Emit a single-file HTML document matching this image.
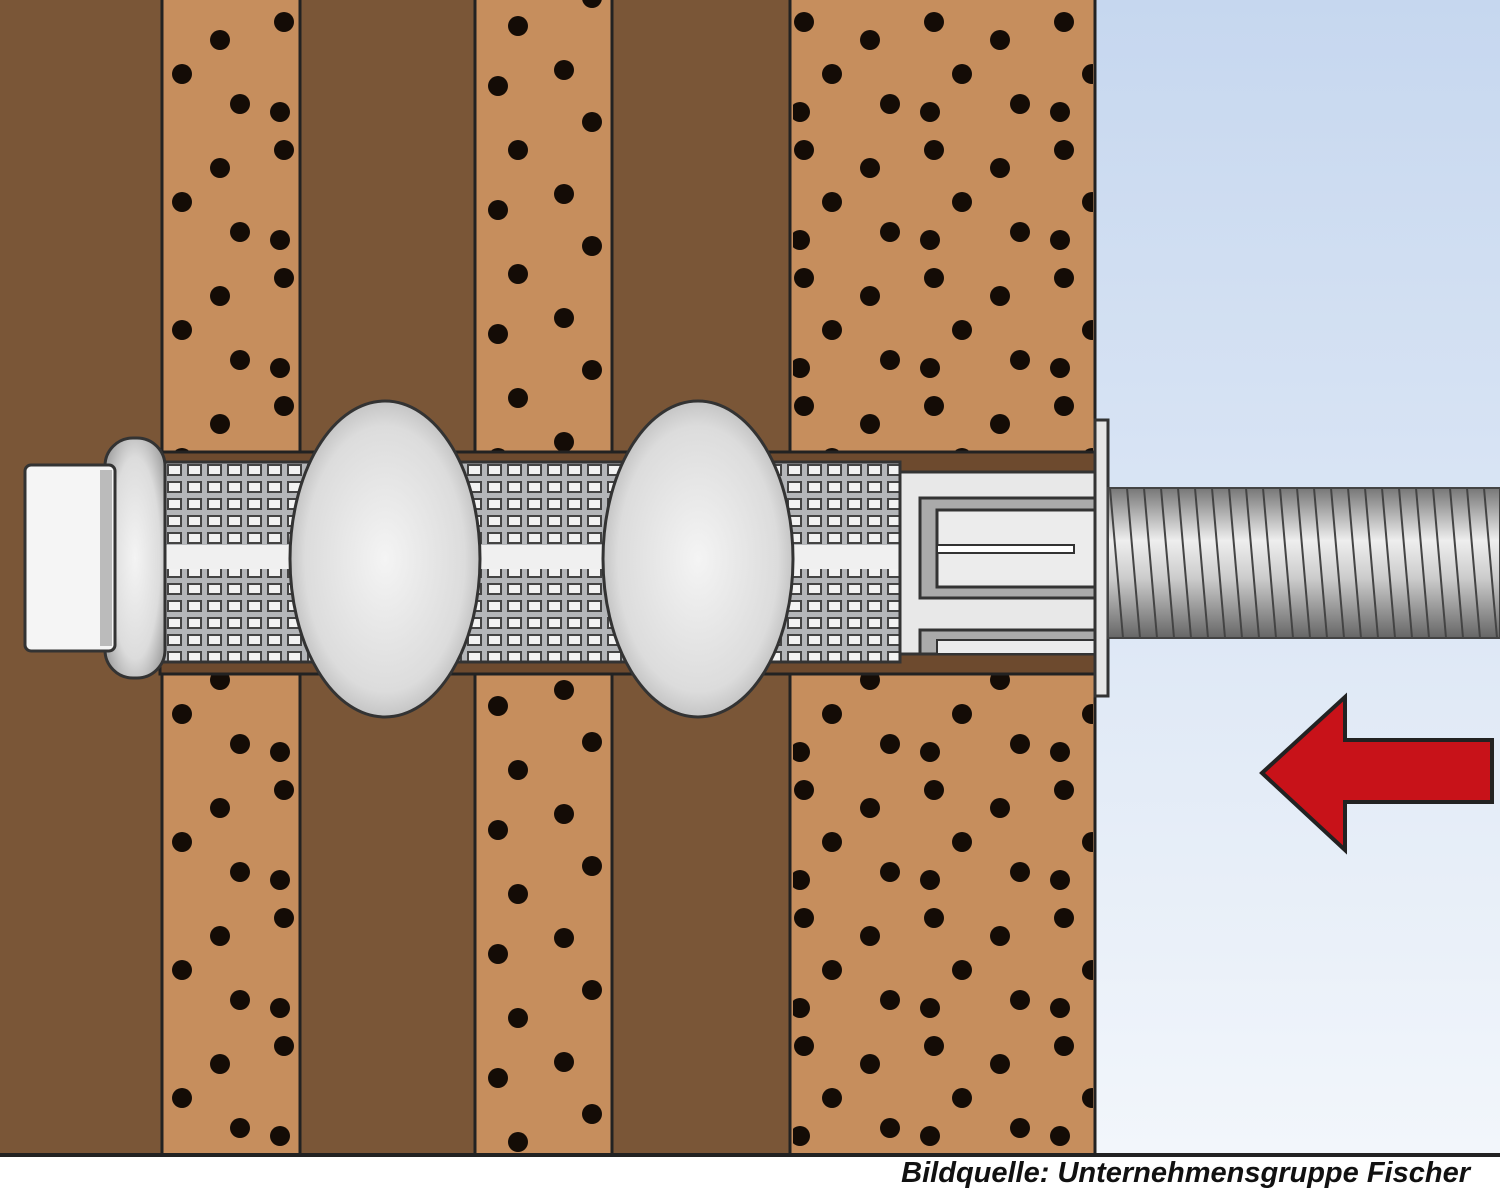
<!DOCTYPE html>
<html><head><meta charset="utf-8"><style>
html,body{margin:0;padding:0;background:#fff;width:1500px;height:1195px;overflow:hidden}
svg{display:block}
.cap{position:absolute;left:0;top:1157px;width:1470px;text-align:right;font-family:"Liberation Sans",sans-serif;font-style:italic;font-weight:bold;font-size:29px;color:#111}
</style></head><body>
<svg width="1500" height="1195" viewBox="0 0 1500 1195">
<defs>
<linearGradient id="sky" x1="0" y1="0" x2="0" y2="1"><stop offset="0" stop-color="#c6d7ef"/><stop offset="1" stop-color="#f2f6fb"/></linearGradient>
<pattern id="dots" width="130" height="128" patternUnits="userSpaceOnUse">
<circle cx="24" cy="22" r="10" fill="#140c06"/><circle cx="90" cy="40" r="10" fill="#140c06"/>
<circle cx="52" cy="74" r="10" fill="#140c06"/><circle cx="110" cy="104" r="10" fill="#140c06"/>
<circle cx="20" cy="112" r="10" fill="#140c06"/>
</pattern>
<pattern id="dots2" width="128" height="124" patternUnits="userSpaceOnUse" x="30" y="50">
<circle cx="22" cy="20" r="10" fill="#140c06"/><circle cx="84" cy="36" r="10" fill="#140c06"/>
<circle cx="50" cy="72" r="10" fill="#140c06"/><circle cx="104" cy="100" r="10" fill="#140c06"/>
</pattern>
<pattern id="mesh" width="20" height="17" patternUnits="userSpaceOnUse" x="165" y="462">
<rect width="20" height="17" fill="#b4b6b9"/><rect x="3" y="3" width="13" height="10" fill="#f2f2f2" stroke="#444" stroke-width="2"/>
</pattern>
<radialGradient id="bulb" cx="0.5" cy="0.5" r="0.6"><stop offset="0" stop-color="#f4f4f4"/><stop offset="0.7" stop-color="#dcdcdc"/><stop offset="1" stop-color="#a8a8a8"/></radialGradient>
<linearGradient id="thr" x1="0" y1="0" x2="0" y2="1"><stop offset="0" stop-color="#777"/><stop offset="0.35" stop-color="#eee"/><stop offset="0.6" stop-color="#ccc"/><stop offset="1" stop-color="#666"/></linearGradient>
<pattern id="thread" width="17" height="150" patternUnits="userSpaceOnUse" x="1108" y="488">
<rect width="17" height="150" fill="url(#thr)"/><path d="M2 0 L15 150" stroke="#444" stroke-width="2"/>
</pattern>
</defs>
<rect width="1500" height="1155" fill="#7a5637"/>
<rect x="1095" y="0" width="405" height="1155" fill="url(#sky)"/>
<g stroke="#222" stroke-width="3">
<rect x="162" y="-5" width="138" height="1160" fill="#c68e5d"/>
<rect x="475" y="-5" width="137" height="1160" fill="#c68e5d"/>
<rect x="790" y="-5" width="305" height="1160" fill="#c68e5d"/>
</g>
<rect x="165" y="0" width="133" height="1153" fill="url(#dots)"/>
<rect x="478" y="0" width="132" height="1153" fill="url(#dots2)"/>
<rect x="793" y="0" width="300" height="1153" fill="url(#dots)"/>
<rect x="0" y="1153" width="1500" height="4" fill="#222"/>
<rect x="160" y="452" width="937" height="222" fill="#6d4a2e" stroke="#222" stroke-width="3"/>
<rect x="160" y="462" width="740" height="200" fill="url(#mesh)" stroke="#333" stroke-width="3"/>
<rect x="160" y="545" width="740" height="24" fill="#f0f0f0"/>
<rect x="900" y="472" width="195" height="182" fill="#e8e8e8" stroke="#333" stroke-width="3"/>
<rect x="920" y="498" width="175" height="100" fill="#aaa" stroke="#333" stroke-width="3"/>
<rect x="937" y="510" width="158" height="77" fill="#ececec" stroke="#333" stroke-width="3"/>
<rect x="937" y="545" width="137" height="8" fill="#fff" stroke="#333" stroke-width="2"/>
<rect x="920" y="630" width="175" height="24" fill="#aaa" stroke="#333" stroke-width="3"/>
<rect x="937" y="640" width="158" height="14" fill="#ececec" stroke="#333" stroke-width="2"/>
<ellipse cx="385" cy="559" rx="95" ry="158" fill="url(#bulb)" stroke="#333" stroke-width="3"/>
<ellipse cx="698" cy="559" rx="95" ry="158" fill="url(#bulb)" stroke="#333" stroke-width="3"/>
<rect x="105" y="438" width="60" height="240" rx="28" fill="url(#bulb)" stroke="#333" stroke-width="3"/>
<rect x="25" y="465" width="90" height="186" rx="6" fill="#f5f5f5" stroke="#333" stroke-width="3"/>
<rect x="100" y="470" width="12" height="176" fill="#bbb"/>
<rect x="1095" y="420" width="13" height="276" fill="#e6e6e6" stroke="#333" stroke-width="3"/>
<rect x="1108" y="488" width="392" height="150" fill="url(#thread)" stroke="#444" stroke-width="2"/>
<path d="M1262 773 L1345 697 L1345 740 L1492 740 L1492 802 L1345 802 L1345 850 Z" fill="#c81219" stroke="#222" stroke-width="4"/>
</svg>
<div class="cap">Bildquelle: Unternehmensgruppe Fischer</div>
</body></html>
